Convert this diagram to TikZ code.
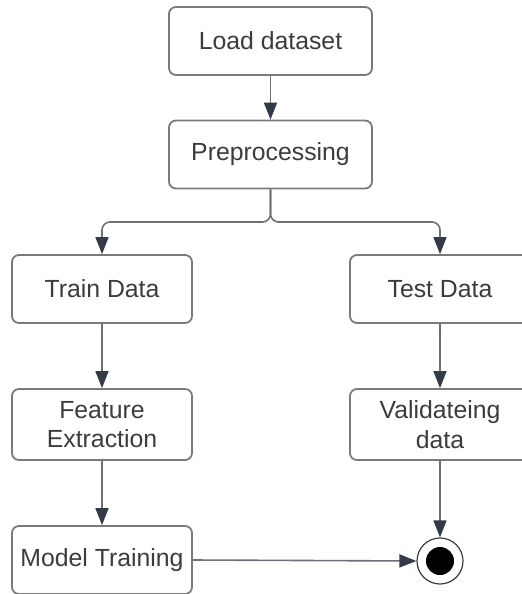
\documentclass[tikz,border=0pt]{standalone}
\usepackage{fontspec}
\setmainfont{Liberation Sans}
\usetikzlibrary{arrows.meta}
\definecolor{boxline}{HTML}{7A7A7A}
\definecolor{textgray}{HTML}{3C3C3C}
\definecolor{linkgray}{HTML}{6E7078}
\definecolor{tipdark}{HTML}{343A46}
\begin{document}
\begin{tikzpicture}[x=0.5pt,y=-0.5pt,
  stepbox/.style={draw=boxline, line width=0.9pt, rounded corners=3.5pt,
    fill=white, text=textgray, align=center,
    font=\fontsize{12.4}{14.8}\selectfont, inner sep=0pt},
  widebox/.style={stepbox, minimum width=101.5pt, minimum height=34pt},
  narrowbox/.style={stepbox, minimum width=90pt, minimum height=34pt},
  tallbox/.style={stepbox, minimum width=90pt, minimum height=35.5pt},
  link/.style={draw=linkgray, line width=0.8pt,
    -{Triangle[length=8.5pt,width=6.5pt,fill=tipdark,color=tipdark]}},
]
\useasboundingbox (0,0) rectangle (522,594);
\fill[white] (0,0) rectangle (522,594);

% activity boxes
\node[widebox]   (load)  at (270.5,41)   {Load dataset};
\node[widebox]   (prep)  at (270.5,154.5){Preprocessing};
\node[narrowbox] (train) at (102,289)    {Train Data};
\node[narrowbox] (test)  at (440,289)    {Test Data};
\node[tallbox]   (feat)  at (102,424.5)  {Feature\\Extraction};
\node[tallbox]   (valid) at (440,424.5)  {Validateing\\data};
\node[narrowbox] (model) at (102,560)    {Model Training};

% final state
\node[circle, draw=textgray, line width=0.6pt, fill=white,
      minimum size=23pt, inner sep=0pt] (end) at (440,561) {};
\fill[black] (end.center) circle (7pt);

% split point below preprocessing
\coordinate (hub) at (270.5,222);

% connectors
\draw[link] (load) -- (prep);
\draw[link, rounded corners=4pt] (prep.south) -- (hub) -| (train.north);
\draw[link, rounded corners=4pt] (prep.south) -- (hub) -| (test.north);
\draw[link] (train) -- (feat);
\draw[link] (feat) -- (model);
\draw[link] (test) -- (valid);
\draw[link] (valid.south) -- (end.north);
\draw[link] (model.east) -- (end.west);
\end{tikzpicture}
\end{document}
